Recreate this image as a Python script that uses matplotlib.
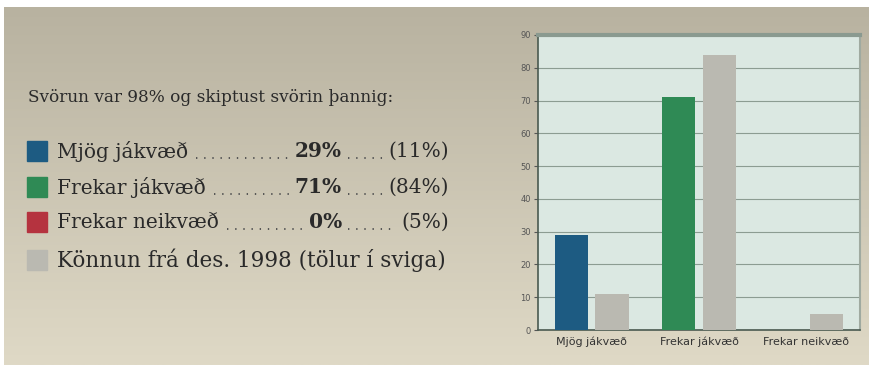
import numpy as np
import matplotlib
matplotlib.use('Agg')
import matplotlib.pyplot as plt
from matplotlib.lines import Line2D

# Datos
categorias = ['Mjög jákvæð', 'Frekar jákvæð', 'Frekar neikvæð']
svor_nu = [29, 71, 0]
svor_1998 = [11, 84, 5]
litir = ['#1d5b82', '#2f8a55', '#b5333f']
litur_1998 = '#bab9b1'

titill = 'Svörun var 98% og skiptust svörin þannig:'
skyring_1998 = 'Könnun frá des. 1998 (tölur í sviga)'
y_ticks = list(range(0, 100, 10))

W, H = 872, 365
fig = plt.figure(figsize=(W / 100, H / 100), dpi=100, facecolor='white')

# Bakgrunnur með litastigli
bg = fig.add_axes([4 / W, 0, 864 / W, 358 / H])
bg.set_axis_off()
top = np.array([184, 178, 160]) / 255
bot = np.array([223, 217, 198]) / 255
t = np.linspace(0, 1, 200)[:, None]
grad = top + (bot - top) * t
bg.imshow(grad[:, None, :].repeat(2, axis=1), aspect='auto', extent=[0, 1, 0, 1], origin='upper')

# Texti vinstra megin
serif = 'DejaVu Serif'
fs = 14.5
fig.text(28 / W, 1 - 98 / H, titill, fontsize=12.2, family=serif, color='#2a2a2a', va='center')

rows_y = [151, 187, 222, 260]
renderer = fig.canvas.get_renderer()
for i, (nafn, pr, gamalt) in enumerate(zip(categorias, svor_nu, svor_1998)):
    yy = 1 - rows_y[i] / H
    fig.patches.append(plt.Rectangle((27 / W, yy - 10 / H), 20 / W, 20 / H,
                                     transform=fig.transFigure, color=litir[i]))
    t1 = fig.text(57 / W, yy, nafn, fontsize=fs, family=serif, color='#2a2a2a', va='center')
    t2 = fig.text(342 / W, yy, f'{pr}%', fontsize=fs, family=serif, weight='bold',
                  color='#2a2a2a', va='center', ha='right')
    t3 = fig.text(449 / W, yy, f'({gamalt}%)', fontsize=fs, family=serif,
                  color='#2a2a2a', va='center', ha='right')
    e1 = t1.get_window_extent(renderer)
    e2 = t2.get_window_extent(renderer)
    e3 = t3.get_window_extent(renderer)
    yb = yy - 7 / H
    for x0, x1 in [(e1.x1 + 8, e2.x0 - 5), (e2.x1 + 6, e3.x0 - 5)]:
        fig.lines.append(Line2D([x0 / W, x1 / W], [yb, yb], transform=fig.transFigure,
                                color='#555555', lw=1.4, linestyle=(0, (0.7, 3.5))))

yy = 1 - rows_y[3] / H
fig.patches.append(plt.Rectangle((27 / W, yy - 10 / H), 20 / W, 20 / H,
                                 transform=fig.transFigure, color=litur_1998))
fig.text(57 / W, yy, skyring_1998, fontsize=15.5, family=serif, color='#2a2a2a', va='center')

# Súlurit
ax = fig.add_axes([538 / W, 1 - 330 / H, 322 / W, 295 / H])
ax.set_facecolor('#dbe8e2')
x = np.arange(len(categorias))
w = 0.31
ax.bar(x - 0.19, svor_nu, width=w, color=litir, zorder=3)
ax.bar(x + 0.19, svor_1998, width=w, color=litur_1998, zorder=3)
ax.set_xlim(-0.5, 2.5)
ax.set_ylim(0, 90)
ax.set_yticks(y_ticks)
ax.set_yticklabels([str(v) for v in y_ticks], fontsize=6, color='#555555')
ax.set_xticks(x)
ax.set_xticklabels(categorias, fontsize=8, color='#333333')
ax.tick_params(axis='y', length=3, color='#555555', pad=2)
ax.tick_params(axis='x', length=0, pad=5)
ax.grid(axis='y', color='#8c9c92', lw=0.8, zorder=1)
for s in ['left', 'bottom']:
    ax.spines[s].set_color('#4a5a50')
    ax.spines[s].set_linewidth(1.2)
ax.spines['top'].set_color('#8a9a90')
ax.spines['top'].set_linewidth(3)
ax.spines['right'].set_color('#a0aaa0')
ax.spines['right'].set_linewidth(1.5)

fig.savefig('out.png', dpi=100, facecolor='white')
